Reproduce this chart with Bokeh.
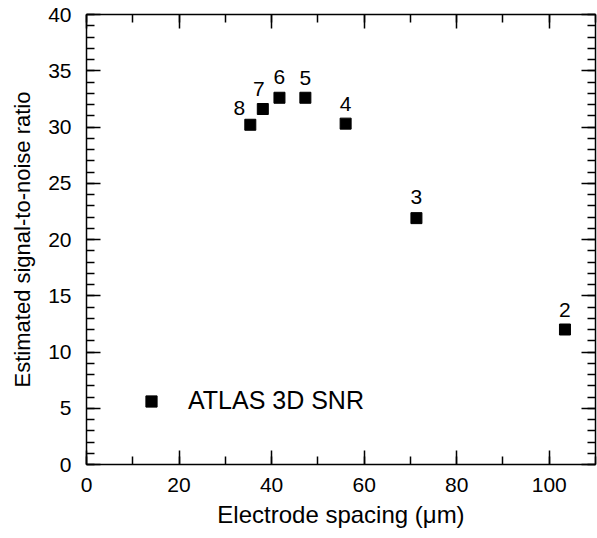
from bokeh.plotting import figure
from bokeh.models import (LinearAxis, SingleIntervalTicker, Range1d, Legend, LegendItem,
                          ColumnDataSource, CustomJSTickFormatter)
from bokeh.core.properties import value
from bokeh.embed import file_html
from bokeh.resources import INLINE

# data
electrode_count = ["8", "7", "6", "5", "4", "3", "2"]
spacing_um = [35.4, 38.1, 41.7, 47.3, 56.0, 71.3, 103.4]
snr = [30.2, 31.6, 32.6, 32.6, 30.3, 21.9, 12.0]
series_name = "ATLAS 3D SNR"

# label offsets (style)
lab_dx = [-11, -4, 0, 0, 0, 0, 0]
lab_dy = [-17, -20, -21, -20, -20, -21, -20]

FONT = "Liberation Sans"

p = figure(width=597, height=538, output_backend="svg", toolbar_location=None,
           x_range=Range1d(0, 110), y_range=Range1d(0, 40),
           min_border_left=86, min_border_right=2, min_border_top=14, min_border_bottom=74,
           x_axis_type=None, y_axis_type=None)
p.xgrid.visible = False
p.ygrid.visible = False
p.outline_line_color = None
p.background_fill_color = "white"
p.border_fill_color = "white"


def style_axis(ax, show_labels):
    ax.axis_line_color = "black"
    ax.axis_line_width = 1.5
    ax.major_tick_line_color = "black"
    ax.major_tick_line_width = 1.5
    ax.minor_tick_line_color = "black"
    ax.minor_tick_line_width = 1.5
    ax.major_tick_in = 14
    ax.major_tick_out = 0
    ax.minor_tick_in = 8
    ax.minor_tick_out = 0
    if show_labels:
        ax.major_label_text_font = FONT
        ax.major_label_text_font_size = "21px"
        ax.major_label_text_color = "black"
        ax.axis_label_text_font = FONT
        ax.axis_label_text_font_size = "23px"
        ax.axis_label_text_font_style = "normal"
        ax.axis_label_text_color = "black"
    else:
        ax.formatter = CustomJSTickFormatter(code="return '';")
        ax.major_label_standoff = 0


xt = lambda: SingleIntervalTicker(interval=20, num_minor_ticks=2)
yt = lambda: SingleIntervalTicker(interval=5, num_minor_ticks=5)

xb = LinearAxis(ticker=xt(), axis_label="Electrode spacing (μm)")
style_axis(xb, True)
xb.major_label_standoff = 13
xb.axis_label_standoff = 6
xb.axis_label_text_font_size = "24px"
p.add_layout(xb, "below")

yl = LinearAxis(ticker=yt(), axis_label="Estimated signal-to-noise ratio")
style_axis(yl, True)
yl.major_label_standoff = 15
yl.axis_label_standoff = 10
yl.axis_label_text_font_size = "22px"
p.add_layout(yl, "left")

xa = LinearAxis(ticker=xt())
style_axis(xa, False)
p.add_layout(xa, "above")

yr = LinearAxis(ticker=yt())
style_axis(yr, False)
p.add_layout(yr, "right")

src = ColumnDataSource(dict(x=spacing_um, y=snr, t=electrode_count, dx=lab_dx, dy=lab_dy))
r = p.scatter("x", "y", source=src, marker="square", size=11,
              fill_color="black", line_color="black")
p.text("x", "y", text="t", source=src, x_offset="dx", y_offset="dy",
       text_align="center", text_baseline="middle",
       text_font=value(FONT), text_font_size="21px", text_color="black")

legend = Legend(items=[LegendItem(label=series_name, renderers=[r])],
                location=(51, 49), padding=0, margin=0, spacing=0,
                glyph_width=28, glyph_height=28, label_height=28, label_standoff=23,
                border_line_alpha=0, background_fill_alpha=0,
                label_text_font=FONT, label_text_font_size="25px", label_text_color="black")
p.add_layout(legend, "center")

open("out.html", "w").write(file_html(p, INLINE))
